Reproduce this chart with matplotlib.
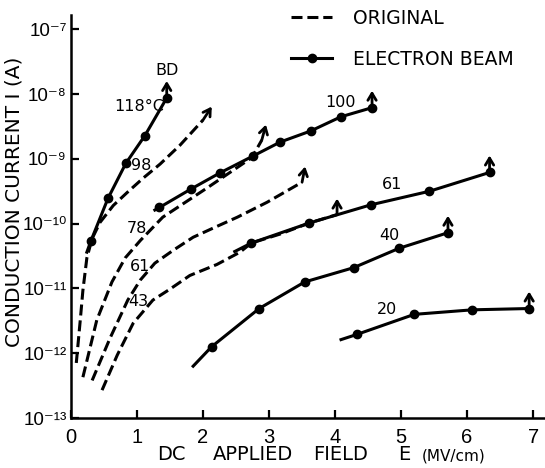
import numpy as np
import matplotlib
matplotlib.use('Agg')
import matplotlib.pyplot as plt
from matplotlib.ticker import NullLocator
from matplotlib.transforms import offset_copy

# Dati: campo E (MV/cm) e log10 della corrente I (A)

# curve "original" (tratteggiate)
orig_98_E = [0.08, 0.14, 0.18, 0.24, 0.32, 0.44, 0.64, 0.85, 1.09, 1.35, 1.65, 2.00]
orig_98_logI = [-12.15, -11.49, -11.03, -10.53, -10.23, -9.98, -9.72, -9.52, -9.30, -9.08, -8.79, -8.40]

orig_78_E = [0.18, 0.39, 0.62, 0.82, 1.05, 1.39, 2.06, 2.74, 2.89]
orig_78_logI = [-12.37, -11.49, -10.90, -10.53, -10.26, -9.90, -9.45, -8.98, -8.71]

orig_61_E = [0.32, 0.59, 0.86, 1.05, 1.27, 1.55, 1.85, 2.15, 2.52, 2.97, 3.50]
orig_61_logI = [-12.42, -11.77, -11.18, -10.87, -10.61, -10.41, -10.21, -10.07, -9.90, -9.67, -9.36]

orig_43_E = [0.47, 0.70, 0.94, 1.24, 1.50, 1.80, 2.21, 2.56, 2.73, 3.17, 3.61, 4.03]
orig_43_logI = [-12.57, -12.03, -11.54, -11.18, -11.01, -10.80, -10.63, -10.44, -10.30, -10.16, -9.99, -9.86]

# curve "electron beam" (linea continua con punti; il primo valore e' l'inizio della linea)
eb_118_E = [0.24, 0.30, 0.56, 0.83, 1.12, 1.45]
eb_118_logI = [-10.44, -10.27, -9.61, -9.07, -8.64, -8.06]

eb_100_E = [1.27, 1.34, 1.81, 2.25, 2.75, 3.17, 3.63, 4.09, 4.56]
eb_100_logI = [-9.79, -9.75, -9.47, -9.22, -8.96, -8.74, -8.57, -8.35, -8.21]

eb_61_E = [2.48, 2.73, 3.61, 4.54, 5.43, 6.34]
eb_61_logI = [-10.43, -10.30, -9.99, -9.71, -9.50, -9.21]

eb_40_E = [1.85, 2.13, 2.85, 3.54, 4.28, 4.97, 5.71]
eb_40_logI = [-12.20, -11.90, -11.31, -10.90, -10.68, -10.38, -10.14]

eb_20_E = [4.09, 4.33, 5.20, 6.08, 6.94]
eb_20_logI = [-11.79, -11.71, -11.40, -11.33, -11.31]

decades = [-13, -12, -11, -10, -9, -8, -7]
x_ticks = [0, 1, 2, 3, 4, 5, 6, 7]

plt.rcParams['font.family'] = 'DejaVu Sans'
TICK_FONT = ['Liberation Sans', 'DejaVu Sans']

fig = plt.figure(figsize=(5.45, 4.68), dpi=100)
ax = fig.add_axes([0.1303, 0.1068, 0.8697, 0.8611])
ax.set_yscale('log')

LW = 2.2
DASH = (3.6, 1.6)


def end_arrow(E, logI, angle, length=16):
    a = np.deg2rad(angle)
    tip = offset_copy(ax.transData, fig=fig, x=length * np.cos(a),
                      y=length * np.sin(a), units='dots')
    ax.annotate('', xy=(E, 10 ** logI), xycoords=tip,
                xytext=(E, 10 ** logI), textcoords='data',
                arrowprops=dict(arrowstyle='->,head_length=0.5,head_width=0.3',
                                lw=2.0, color='black', shrinkA=0, shrinkB=0))


# tratteggiate + freccia finale (angolo della freccia in gradi)
originals = [
    (orig_98_E, orig_98_logI, 57),
    (orig_78_E, orig_78_logI, 75),
    (orig_61_E, orig_61_logI, 79),
    (orig_43_E, orig_43_logI, 90),
]
for E, L, ang in originals:
    ax.plot(E, 10 ** np.array(L), color='black', lw=LW, linestyle=(0, DASH),
            dash_capstyle='butt')
    end_arrow(E[-1], L[-1], ang)

beams = [
    (eb_118_E, eb_118_logI),
    (eb_100_E, eb_100_logI),
    (eb_61_E, eb_61_logI),
    (eb_40_E, eb_40_logI),
    (eb_20_E, eb_20_logI),
]
for E, L in beams:
    ax.plot(E, 10 ** np.array(L), color='black', lw=LW, marker='o', ms=6,
            markevery=slice(1, None))
    end_arrow(E[-1], L[-1], 90, length=17)

# etichette delle curve
labels = [
    ('118°C', 1.03, -8.19), ('BD', 1.45, -7.63), ('98', 1.06, -9.11),
    ('78', 1.00, -10.07), ('61', 1.05, -10.66), ('43', 1.02, -11.20),
    ('100', 4.08, -8.13), ('61', 4.86, -9.39), ('40', 4.83, -10.19),
    ('20', 4.79, -11.33),
]
for txt, E, L in labels:
    ax.text(E, 10 ** L, txt, fontsize=11.5, ha='center', va='center')

# assi
SUP = str.maketrans('-0123456789', '⁻⁰¹²³⁴⁵⁶⁷⁸⁹')
ax.set_xlim(0, 7.18)
ax.set_ylim(1e-13, 10 ** -6.78)
ax.set_xticks(x_ticks)
ax.set_xticklabels([str(v) for v in x_ticks], fontsize=14.5, family=TICK_FONT)
ax.set_yticks([10.0 ** d for d in decades])
ax.set_yticklabels(['10' + str(d).translate(SUP) for d in decades],
                   fontsize=13.5, family=TICK_FONT)
ax.yaxis.set_minor_locator(NullLocator())
ax.xaxis.set_minor_locator(NullLocator())
ax.tick_params(direction='in', length=6, width=1.6)
ax.tick_params(axis='x', pad=7)
ax.tick_params(axis='y', pad=3)

for s in ['top', 'right']:
    ax.spines[s].set_visible(False)
for s in ['left', 'bottom']:
    ax.spines[s].set_linewidth(1.8)

ax.set_ylabel('CONDUCTION CURRENT I (A)', fontsize=14.5)
ax.yaxis.set_label_coords(-0.1, 0.536)

# etichetta asse x a pezzi, come nell'originale
fig.text(157 / 545, 1 - 455 / 468, 'DC', fontsize=14, va='center', ha='left')
fig.text(213 / 545, 1 - 455 / 468, 'APPLIED', fontsize=14, va='center', ha='left')
fig.text(313 / 545, 1 - 455 / 468, 'FIELD', fontsize=14, va='center', ha='left')
fig.text(398 / 545, 1 - 455 / 468, 'E', fontsize=14, va='center', ha='left')
fig.text(422 / 545, 1 - 456 / 468, '(MV/cm)', fontsize=11, va='center', ha='left')

# legenda
h1, = ax.plot([], [], color='black', lw=LW, linestyle=(0, DASH))
h2, = ax.plot([], [], color='black', lw=LW, marker='o', ms=6)
ax.legend([h1, h2], ['ORIGINAL', 'ELECTRON BEAM'], loc='upper left',
          bbox_to_anchor=(0.464, 1.015), frameon=False, fontsize=13.5,
          handlelength=2.2, handletextpad=1.1, labelspacing=1.15,
          borderpad=0, borderaxespad=0, numpoints=1)

plt.savefig('out.png', dpi=100)
plt.close()
